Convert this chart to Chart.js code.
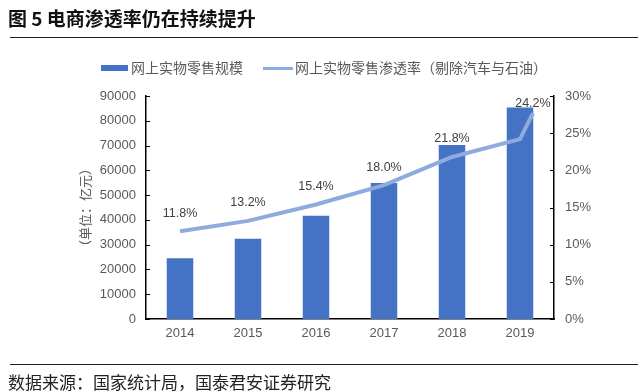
<!DOCTYPE html>
<html>
<head>
<meta charset="utf-8">
<script src="https://cdn.jsdelivr.net/npm/chart.js@4.4.1/dist/chart.umd.min.js"></script>
<style>
  html, body { margin: 0; padding: 0; background: #fff; }
  #wrap { position: relative; width: 640px; height: 392px; overflow: hidden; font-family: "Noto Sans CJK SC", sans-serif; }
  #chart { position: absolute; left: 0; top: 0; }
  .title { position: absolute; left: 8px; top: 4px; font-size: 19px; font-weight: bold; color: #111; white-space: nowrap; }
  .rule { position: absolute; left: 10px; width: 628px; height: 0; border-top: 1.5px solid #222; }
  .legend { position: absolute; top: 57px; font-size: 14px; color: #595959; white-space: nowrap; line-height: 20px; }
  .legend .box { display: inline-block; width: 27px; height: 6px; background: #4472C4; vertical-align: middle; margin-right: 3px; position: relative; top: -1px; }
  .legend .ln { display: inline-block; width: 30px; height: 3px; background: #8FAADC; vertical-align: middle; margin-right: 2px; position: relative; top: -1px; }
  .source { position: absolute; left: 8px; top: 369px; font-size: 17px; color: #222; white-space: nowrap; }
</style>
</head>
<body>
<div id="wrap">
  <canvas id="chart" width="640" height="392"></canvas>
  <div class="title">图 5 电商渗透率仍在持续提升</div>
  <div class="rule" style="top:37px"></div>
  <div class="legend" style="left:101px"><span class="box"></span>网上实物零售规模</div>
  <div class="legend" style="left:263px"><span class="ln"></span>网上实物零售渗透率（剔除汽车与石油）</div>
  <div class="rule" style="top:364px"></div>
  <div class="source">数据来源：国家统计局，国泰君安证券研究</div>
</div>
<script>
    "use strict";

    const years = ['2014', '2015', '2016', '2017', '2018', '2019'];
    const retailScale = [24500, 32400, 41700, 54900, 70200, 85400];   // 亿元
    const penetration = [11.8, 13.2, 15.4, 18.0, 21.8, 24.2];         // %
    // the original line runs on past 2019 to a short tail end
    const tailPoint = { x: 5.19, y: 27.7 };

    const barColor = '#4472C4';
    const lineColor = '#8FAADC';
    const textColor = '#595959';

    const linePoints = penetration.map((v, i) => ({ x: i, y: v }));
    linePoints.push(tailPoint);

    // inward tick marks on both value axes + line labels
    const decorPlugin = {
        id: 'decor',
        afterDraw(chart) {
            const ctx = chart.ctx;
            ctx.save();
            ctx.strokeStyle = '#000';
            ctx.lineWidth = 1;
            ['y', 'y1'].forEach(function (id) {
                const sc = chart.scales[id];
                const x0 = id === 'y' ? sc.right : sc.left;
                const dir = id === 'y' ? 1 : -1;
                sc.ticks.forEach(function (t) {
                    const py = Math.round(sc.getPixelForValue(t.value)) + 0.5;
                    ctx.beginPath();
                    ctx.moveTo(x0, py);
                    ctx.lineTo(x0 + dir * 4, py);
                    ctx.stroke();
                });
            });

            const pts = chart.getDatasetMeta(1).data;
            ctx.fillStyle = '#404040';
            ctx.font = '12.5px "Liberation Sans", Arial, sans-serif';
            ctx.textAlign = 'center';
            ctx.textBaseline = 'middle';
            penetration.forEach(function (v, i) {
                const last = i === penetration.length - 1;
                const p = last ? pts[pts.length - 1] : pts[i];
                ctx.fillText(v.toFixed(1) + '%', p.x, p.y - (last ? 10 : 18));
            });
            ctx.restore();
        }
    };

    new Chart(document.getElementById('chart'), {
        type: 'bar',
        data: {
            labels: years,
            datasets: [{
                type: 'bar',
                label: '网上实物零售规模',
                data: retailScale,
                backgroundColor: barColor,
                borderWidth: 0,
                grouped: false,
                categoryPercentage: 1,
                barPercentage: 0.39,
                yAxisID: 'y',
                xAxisID: 'x',
                order: 2
            }, {
                type: 'line',
                label: '网上实物零售渗透率（剔除汽车与石油）',
                data: linePoints,
                borderColor: lineColor,
                borderWidth: 4,
                pointRadius: 0,
                tension: 0,
                fill: false,
                yAxisID: 'y1',
                xAxisID: 'xl',
                order: 1
            }]
        },
        options: {
            responsive: false,
            animation: false,
            devicePixelRatio: 1,
            layout: { padding: { left: 79, right: 36, top: 96, bottom: 43 } },
            plugins: {
                legend: { display: false },
                title: { display: false },
                tooltip: { enabled: false }
            },
            scales: {
                x: {
                    type: 'category',
                    offset: true,
                    grid: { display: false, tickLength: 0 },
                    border: { display: true, color: '#000', width: 1.5 },
                    ticks: { color: textColor, padding: 7, font: { size: 13, family: '"Liberation Sans", Arial, sans-serif' } },
                    afterFit(scale) { scale.height = 30; }
                },
                xl: {
                    type: 'linear',
                    display: false,
                    offset: false,
                    bounds: 'data',
                    min: -0.5,
                    max: 5.5
                },
                y: {
                    position: 'left',
                    min: 0,
                    max: 90000,
                    grid: { display: false, tickLength: 0 },
                    border: { display: true, color: '#000', width: 1.5 },
                    ticks: {
                        stepSize: 10000,
                        color: textColor,
                        padding: 10,
                        font: { size: 13, family: '"Liberation Sans", Arial, sans-serif' },
                        callback: function (v) { return String(v); }
                    },
                    title: {
                        display: true,
                        text: '（单位：亿元）',
                        color: textColor,
                        padding: 0,
                        font: { size: 13, family: '"Noto Sans CJK SC", sans-serif', lineHeight: 1 }
                    },
                    afterFit(scale) { scale.width = 67; }
                },
                y1: {
                    position: 'right',
                    min: 0,
                    max: 30,
                    grid: { display: false, tickLength: 0 },
                    border: { display: true, color: '#000', width: 1.5 },
                    ticks: {
                        stepSize: 5,
                        color: textColor,
                        padding: 11,
                        font: { size: 13, family: '"Liberation Sans", Arial, sans-serif' },
                        callback: function (v) { return v + '%'; }
                    },
                    afterFit(scale) { scale.width = 50; }
                }
            }
        },
        plugins: [decorPlugin]
    });
</script>
</body>
</html>
